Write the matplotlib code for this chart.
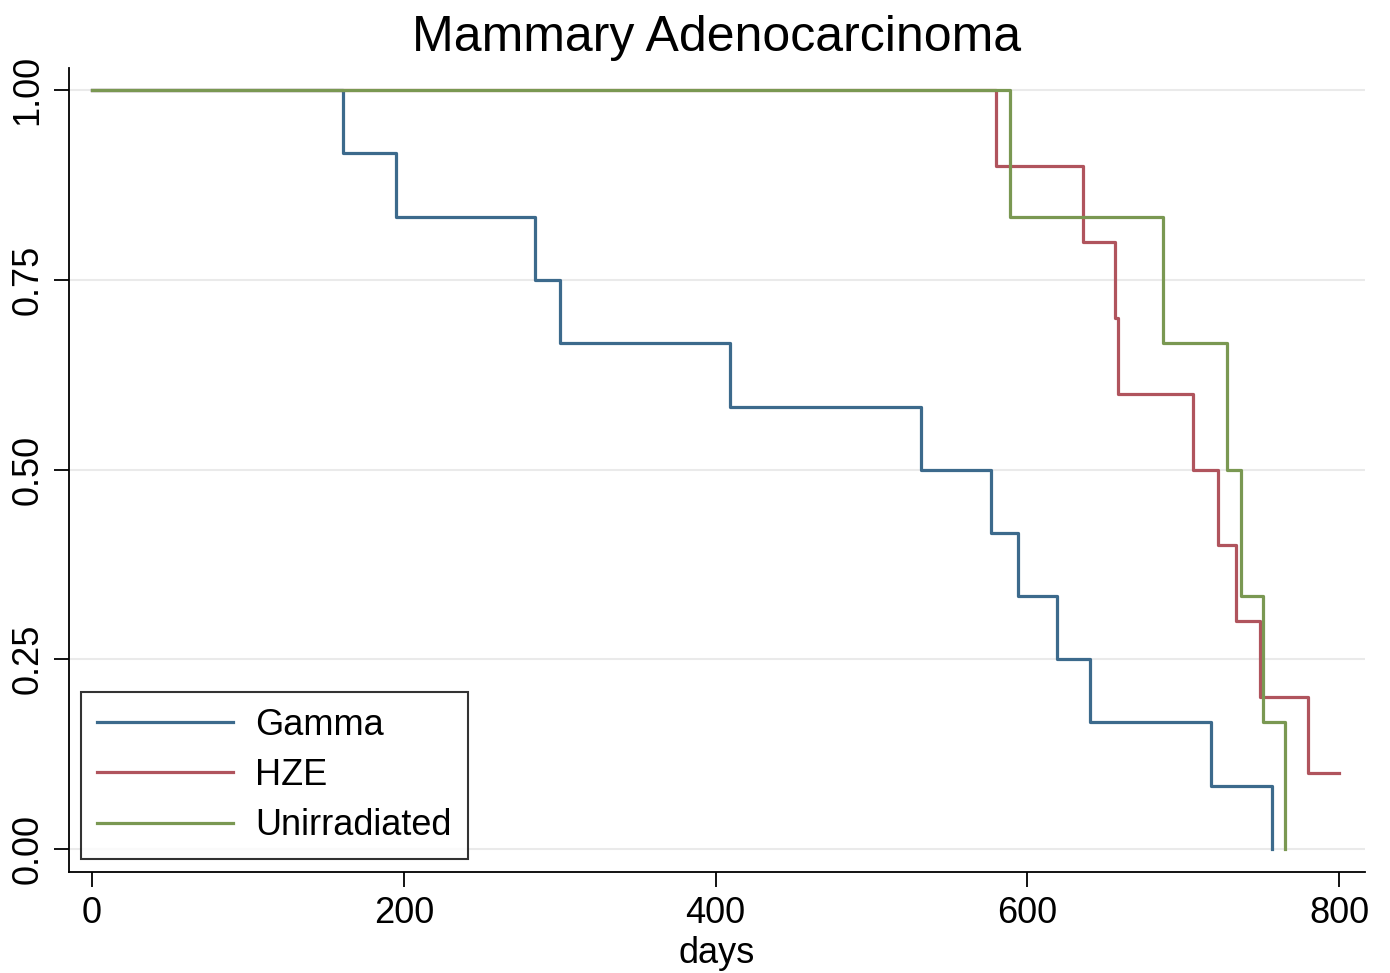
import matplotlib
matplotlib.use('Agg')
import matplotlib.pyplot as plt

# Kaplan-Meier style survival estimates
gamma_days = [0, 161, 195, 284, 300, 409, 532, 577, 594, 619, 640, 718, 757]
gamma_surv = [1.0, 0.917, 0.833, 0.75, 0.667, 0.583, 0.5, 0.417, 0.333, 0.25, 0.167, 0.083, 0.0]

hze_days = [0, 580, 636, 656, 658, 706, 722, 734, 749, 780, 800]
hze_surv = [1.0, 0.9, 0.8, 0.7, 0.6, 0.5, 0.4, 0.3, 0.2, 0.1, 0.1]

unirr_days = [0, 589, 687, 728, 737, 751, 765]
unirr_surv = [1.0, 0.833, 0.667, 0.5, 0.333, 0.167, 0.0]

plt.rcParams['font.family'] = ['Liberation Sans', 'DejaVu Sans']

fig = plt.figure(figsize=(13.9, 9.73), dpi=100, facecolor='white')
ax = fig.add_axes([0.0496, 0.1038, 0.9324, 0.8263])

lw = 2.3
ax.step(gamma_days, gamma_surv, where='post', color='#3c6a8c', lw=lw, label='Gamma')
ax.step(hze_days, hze_surv, where='post', color='#b0545d', lw=lw, label='HZE')
ax.step(unirr_days, unirr_surv, where='post', color='#7a9852', lw=lw, label='Unirradiated')

ax.set_xlim(-14.8, 816.6)
ax.set_ylim(-0.0303, 1.029)
ax.set_xticks([0, 200, 400, 600, 800])
ax.set_yticks([0.0, 0.25, 0.5, 0.75, 1.0])
ax.set_yticklabels(['0.00', '0.25', '0.50', '0.75', '1.00'], rotation=90, va='center')
ax.tick_params(axis='both', labelsize=26, length=11, width=1.3, direction='out', pad=6)
ax.grid(axis='y', color='#eaeaea', lw=1.5)
ax.set_axisbelow(True)
for s in ['top', 'right']:
    ax.spines[s].set_visible(False)
for s in ['left', 'bottom']:
    ax.spines[s].set_linewidth(1.3)

ax.set_xlabel('days', fontsize=26, labelpad=4)
ax.set_title('Mammary Adenocarcinoma', fontsize=36, pad=12)

leg = ax.legend(loc='lower left', bbox_to_anchor=(0.0093, 0.016), borderaxespad=0,
                fontsize=26, frameon=True, fancybox=False, edgecolor='black',
                handlelength=3.78, handletextpad=0.61, labelspacing=0.42, borderpad=0.44)
leg.get_frame().set_linewidth(1.5)
for line in leg.get_lines():
    line.set_linewidth(2.3)

fig.savefig('out.png', dpi=100)
